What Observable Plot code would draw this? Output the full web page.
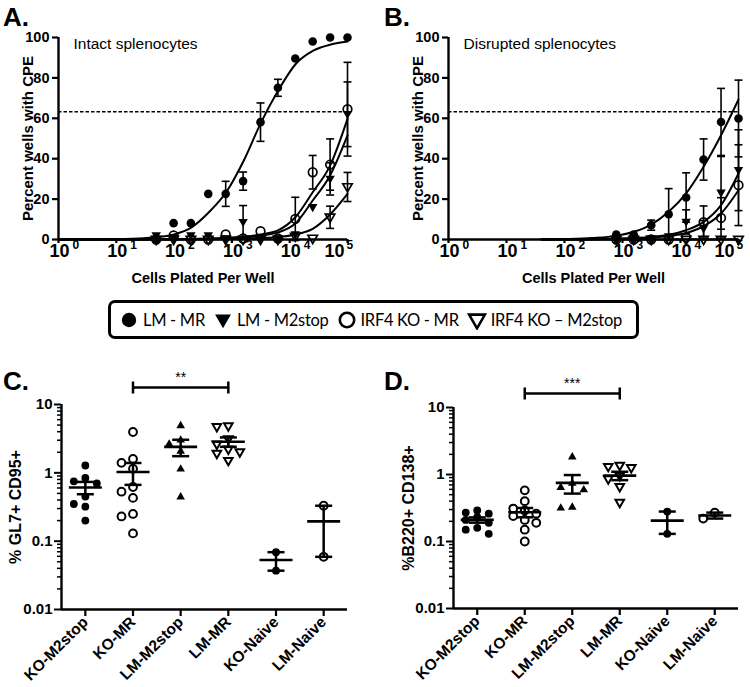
<!DOCTYPE html>
<html><head><meta charset="utf-8">
<script src="https://cdn.jsdelivr.net/npm/d3@7"></script>
<script src="https://cdn.jsdelivr.net/npm/@observablehq/plot@0.6"></script>
<style>
html,body{margin:0;padding:0;background:#fff;}
body{width:750px;height:687px;position:relative;overflow:hidden;font-family:"Liberation Sans",Arial,sans-serif;}
.panel{position:absolute;}
.letter{position:absolute;font:bold 26px "Liberation Sans",Arial,sans-serif;line-height:1;}
#legend{position:absolute;left:108px;top:300px;width:531px;height:39px;border:3px solid #000;border-radius:7px;box-sizing:border-box;display:flex;align-items:center;padding-left:8px;gap:8px;font:16.5px Lato,"Open Sans",sans-serif;letter-spacing:-0.3px;}
#legend .item{display:flex;align-items:center;gap:4px;white-space:nowrap;}
</style>
</head><body>
<div class="letter" style="left:3px;top:4px">A.</div>
<div class="letter" style="left:384px;top:4px">B.</div>
<div class="letter" style="left:3px;top:368px">C.</div>
<div class="letter" style="left:384px;top:368px">D.</div>
<div id="pA" class="panel" style="left:0;top:0"></div>
<div id="pB" class="panel" style="left:375px;top:0"></div>
<div id="legend"></div>
<div id="pC" class="panel" style="left:0;top:360px"></div>
<div id="pD" class="panel" style="left:375px;top:360px"></div>
<script>
// ---------------- DATA ----------------
const seriesNames = ["LM - MR", "LM - M2stop", "IRF4 KO - MR", "IRF4 KO \u2013 M2stop"];
const cellsA = [49, 98, 195, 390, 781, 1562, 3125, 6250, 12500, 25000, 50000, 100000];
const cellsB = [781, 1562, 3125, 6250, 12500, 25000, 50000, 100000];
const xTicksCPE = [1, 10, 100, 1000, 10000, 100000];
const yTicksCPE = [0, 20, 40, 60, 80, 100];
const thresholdCPE = [63.2];

// Panel A (intact splenocytes): mean % wells with CPE and error
const aLmMr    = [0, 8.1, 8.1, 22.6, 22.6, 28.9, 58.1, 75.1, 89.6, 98, 100, 100];
const aLmMrErr = [0, 0, 0, 0, 6.2, 4.5, 9.5, 4.2, 0, 0, 0, 0];
const aLmM2    = [2, 1, 2, 2, 0.5, 8.6, 0.5, 0.5, 2.5, 16, 30, 62];
const aLmM2Err = [0, 0, 0, 0, 0, 8.2, 0, 0, 0, 0, 8, 16];
const aKoMr    = [0, 2, 0, 0, 2.5, 0.5, 4.1, 0.5, 10.2, 33.3, 37.1, 64.5];
const aKoMrErr = [0, 0, 0, 0, 0, 0, 0, 0, 10.7, 8.3, 12.7, 23.2];
const aKoM2    = [0, 0, 0, 0, 0, 0, 0, 0, 1.5, 0.5, 11, 26];
const aKoM2Err = [0, 0, 0, 0, 0, 0, 0, 0, 0, 0, 5.5, 7.2];
// Panel A fitted curves
const aCurveXMr   = [1, 10, 30, 50, 100, 200, 400, 800, 1600, 3200, 6400, 12800, 25600, 51200, 100000];
const aCurveLmMr  = [0, 0.2, 0.6, 1.2, 2.5, 6, 13.5, 23.5, 39, 58, 74, 87, 93.5, 96.5, 98];
const aCurveX     = [1, 10, 100, 1000, 3125, 6250, 12500, 25000, 50000, 100000];
const aCurveKoMr  = [0, 0, 0.1, 1, 2.5, 4.5, 11, 23.4, 36.6, 59.7];
const aCurveLmM2  = [0, 0, 0.1, 0.7, 1.8, 3.5, 7.9, 19.3, 31.7, 51.5];
const aCurveKoM2  = [0, 0, 0, 0.3, 0.7, 1.2, 2.5, 5.3, 12.4, 22.6];

// Panel B (disrupted splenocytes)
const bLmMr    = [2.5, 2.5, 7.1, 12.5, 20.8, 39.6, 58.2, 59.9];
const bLmMrErr = [0, 0, 2.5, 12.7, 12.2, 10.2, 16.6, 19];
const bLmM2    = [0.5, 0.5, 0.5, 1.5, 8.7, 5.4, 23.1, 34.3];
const bLmM2Err = [0, 0, 0, 0, 6, 4, 18, 20];
const bKoMr    = [0, 0, 0, 0, 1, 8.6, 10.7, 26.9];
const bKoMrErr = [0, 0, 0, 0, 0, 8, 10, 20];
const bKoM2    = [0, 0, 0, 0, 0, 0, 0, 0];
const bKoM2Err = [0, 0, 0, 0, 0, 0, 0, 0];
const bCurveX    = [40, 100, 300, 781, 1562, 3125, 6250, 12500, 25000, 50000, 100000];
const bCurveLmMr = [0, 0.2, 0.7, 1.8, 3.8, 7.4, 13.7, 22.8, 36, 51.6, 69.3];
const bCurveLmM2 = [0, 0, 0.1, 0.4, 0.8, 1.3, 2.3, 4.6, 8.7, 17, 32.7];
const bCurveKoMr = [0, 0, 0.1, 0.3, 0.5, 0.9, 1.7, 3.2, 6.6, 12.9, 24.4];
const bCurveKoM2 = [0, 0, 0, 0, 0, 0, 0, 0, 0, 0, 0];

// Panels C and D
const groups = ["KO-M2stop", "KO-MR", "LM-M2stop", "LM-MR", "KO-Naive", "LM-Naive"];
const gl7 = [
  [1.28, 0.84, 0.75, 0.70, 0.45, 0.35, 0.32, 0.20],
  [3.96, 1.6, 1.4, 1.15, 0.62, 0.53, 0.43, 0.25, 0.23, 0.13],
  [4.97, 3.06, 2.67, 2.1, 1.15, 0.45],
  [4.8, 4.7, 3.1, 2.6, 2.2, 2.0, 1.9, 1.5],
  [0.069, 0.037],
  [0.33, 0.059]
];
const b220 = [
  [0.29, 0.27, 0.26, 0.23, 0.21, 0.19, 0.16, 0.15, 0.13],
  [0.58, 0.40, 0.31, 0.29, 0.26, 0.24, 0.21, 0.19, 0.15, 0.10],
  [1.85, 0.75, 0.65, 0.60, 0.33, 0.32],
  [1.35, 1.3, 1.25, 0.95, 0.85, 0.65, 0.38],
  [0.28, 0.13],
  [0.22, 0.27]
];
const yTicksLog = [0.01, 0.1, 1, 10];
const yMinorLog = [0.02,0.03,0.04,0.05,0.06,0.07,0.08,0.09,0.2,0.3,0.4,0.5,0.6,0.7,0.8,0.9,2,3,4,5,6,7,8,9];
const sigC = {from: "KO-MR", to: "LM-MR", label: "**"};
const sigD = {from: "KO-MR", to: "LM-MR", label: "***"};

// ---------------- SYMBOLS ----------------
const rad = size => Math.sqrt(size / Math.PI);
const triDown = {draw(c, s){const r=rad(s); c.moveTo(-r*1.1,-r*0.75); c.lineTo(r*1.1,-r*0.75); c.lineTo(0,r*1.15); c.closePath();}};
const triUp = {draw(c, s){const r=rad(s); c.moveTo(-r*1.1,r*0.75); c.lineTo(r*1.1,r*0.75); c.lineTo(0,-r*1.15); c.closePath();}};
const hline = {draw(c, s){const r=rad(s); c.moveTo(-r,0); c.lineTo(r,0);}};
const vline = {draw(c, s){const r=rad(s); c.moveTo(0,-r); c.lineTo(0,r);}};
const seriesSymbols = [d3.symbolCircle, triDown, d3.symbolCircle, triDown];
const seriesFilled = [true, true, false, false];
const groupSymbols = [d3.symbolCircle, d3.symbolCircle, triUp, triDown, d3.symbolCircle, d3.symbolCircle];
const groupFilled = [true, false, true, false, true, false];

const FONT = "Liberation Sans, Arial, sans-serif";
const expOf = d => String(Math.round(Math.log10(d)));

function cpePlot({cells, series, curves, title, m}) {
  const pts = series.map(s => cells.map((c, i) => ({x: c, y: s.v[i], e: s.e[i]})));
  const errs = pts.flat().filter(d => d.e > 0);
  const W = 375, H = 290;
  const base = {x: d => d, frameAnchor: "bottom", lineAnchor: "top", fontWeight: "bold"};
  const first = xTicksCPE.slice(0, -1), last = xTicksCPE.slice(-1);
  return Plot.plot({
    width: W, height: H,
    marginLeft: m.left, marginRight: m.right, marginTop: 37, marginBottom: 51,
    x: {type: "log", domain: [1, 100000]},
    y: {domain: [0, 100]},
    style: {fontFamily: FONT, overflow: "visible", background: "transparent", color: "#000"},
    marks: [
      Plot.ruleY(thresholdCPE, {strokeDasharray: "3.5,2", strokeWidth: 1.5}),
      ...curves.map(cv => Plot.line(cv.x.map((x, i) => ({x, y: cv.y[i]})), {x: "x", y: "y", curve: "monotone-x", strokeWidth: 2})),
      Plot.ruleX(errs, {x: "x", y1: d => d.y - d.e, y2: d => d.y + d.e, strokeWidth: 1.6}),
      Plot.dot(errs, {x: "x", y: d => d.y + d.e, symbol: hline, r: 4, stroke: "#000", strokeWidth: 1.6}),
      Plot.dot(errs, {x: "x", y: d => d.y - d.e, symbol: hline, r: 4, stroke: "#000", strokeWidth: 1.6}),
      ...pts.map((p, k) => Plot.dot(p, {x: "x", y: "y", symbol: seriesSymbols[k], r: 4.3,
        fill: seriesFilled[k] ? "#000" : "none", stroke: "#000", strokeWidth: seriesFilled[k] ? 0 : 1.7})),
      Plot.ruleY([0], {strokeWidth: 2.4}),
      Plot.ruleX([1], {strokeWidth: 2.4}),
      Plot.axisY({ticks: yTicksCPE, tickSize: 6, tickPadding: 3, strokeWidth: 2.2, fontSize: 14.5, fontWeight: "bold", label: null}),
      Plot.axisX({ticks: xTicksCPE, tickSize: 4, strokeWidth: 2.2, label: null, tickFormat: () => ""}),
      // tick labels "10" with superscript exponent
      Plot.text(first, {...base, text: () => "10", fontSize: 18, textAnchor: "middle", dx: 1, dy: 5}),
      Plot.text(first, {...base, text: expOf, fontSize: 12, textAnchor: "start", dx: 14, dy: 1}),
      Plot.text(last, {...base, text: () => "10", fontSize: 18, textAnchor: "end", dx: m.lastDx, dy: 5}),
      Plot.text(last, {...base, text: expOf, fontSize: 12, textAnchor: "start", dx: m.lastDx + 2, dy: 1}),
      Plot.text(["Percent wells with CPE"], {frameAnchor: "left", rotate: -90, dx: -30, textAnchor: "middle", lineAnchor: "middle", fontSize: 15, fontWeight: "bold"}),
      Plot.text(["Cells Plated Per Well"], {frameAnchor: "bottom", dy: 39, textAnchor: "middle", lineAnchor: "middle", fontSize: 14.5, fontWeight: "bold"}),
      Plot.text([title], {frameAnchor: "top-left", dx: 15, dy: 0, textAnchor: "start", lineAnchor: "top", fontSize: 15.5})
    ]
  });
}

function swarm(vals, pxPerDec, stepPx, minDist) {
  const order = d3.range(vals.length).sort((a, b) => vals[b] - vals[a]);
  const placed = [], off = new Array(vals.length);
  for (const i of order) {
    const py = Math.log10(vals[i]) * pxPerDec;
    let best = 0, bestD = -1;
    for (const s of [0, -1, 1]) {
      const d = d3.min(placed.filter(p => p.s === s), p => Math.abs(p.py - py)) ?? Infinity;
      if (d >= minDist) { best = s; bestD = d; break; }
      if (d > bestD) { best = s; bestD = d; }
    }
    off[i] = best * stepPx; placed.push({s: best, py});
  }
  return off;
}

function groupPlot({vals, yTitle, sig, m}) {
  const W = 375, H = 327;
  const unit = (W - m.left - m.right) / groups.length;
  const pxPerDec = (H - m.top - m.bottom) / 3;
  const pts = [], stats = [];
  vals.forEach((arr, g) => {
    const offs = swarm(arr, pxPerDec, 11.5, 9);
    arr.forEach((v, i) => pts.push({g, v, x: g + offs[i] / unit}));
    const mean = d3.mean(arr), sem = d3.deviation(arr) / Math.sqrt(arr.length);
    stats.push({g, mean, lo: mean - sem, hi: mean + sem});
  });
  return Plot.plot({
    width: W, height: H,
    marginLeft: m.left, marginRight: m.right, marginTop: m.top, marginBottom: m.bottom,
    x: {domain: [-0.5, groups.length - 0.5]},
    y: {type: "log", domain: [0.01, 10]},
    style: {fontFamily: FONT, overflow: "visible", background: "transparent", color: "#000"},
    marks: [
      Plot.ruleX(stats, {x: "g", y1: "lo", y2: "hi", strokeWidth: 2.5}),
      Plot.dot(stats, {x: "g", y: "lo", symbol: hline, r: 8.5, stroke: "#000", strokeWidth: 2.5}),
      Plot.dot(stats, {x: "g", y: "hi", symbol: hline, r: 8.5, stroke: "#000", strokeWidth: 2.5}),
      Plot.dot(stats, {x: "g", y: "mean", symbol: hline, r: 16.5, stroke: "#000", strokeWidth: 2.6}),
      ...groups.map((name, g) => Plot.dot(pts.filter(d => d.g === g), {x: "x", y: "v", symbol: groupSymbols[g], r: 3.9,
        fill: groupFilled[g] ? "#000" : "none", stroke: "#000", strokeWidth: groupFilled[g] ? 0 : 2})),
      Plot.ruleY([0.01], {strokeWidth: 2.4}),
      Plot.ruleX([-0.5], {strokeWidth: 2.4}),
      Plot.axisY({ticks: yTicksLog, tickSize: 7, tickPadding: 2, strokeWidth: 2, fontSize: 15, fontWeight: "bold", label: null, tickFormat: d => String(d)}),
      Plot.axisY({ticks: yMinorLog, tickSize: 4, strokeWidth: 1.5, label: null, tickFormat: () => ""}),
      Plot.axisX({ticks: d3.range(groups.length), tickSize: 7, tickPadding: 3, strokeWidth: 2.2, tickRotate: -45, fontSize: 15.5, fontWeight: "bold", label: null, tickFormat: i => groups[i]}),
      Plot.text([yTitle], {frameAnchor: "left", rotate: -90, dx: m.ytitle, textAnchor: "middle", lineAnchor: "middle", fontSize: 16, fontWeight: "bold"}),
      Plot.ruleY([sig], {x1: d => groups.indexOf(d.from), x2: d => groups.indexOf(d.to), y: () => 10, dy: m.sigDy, strokeWidth: 2.5}),
      Plot.dot([sig.from, sig.to], {x: d => groups.indexOf(d), y: () => 10, dy: m.sigDy, symbol: vline, r: 6, stroke: "#000", strokeWidth: 2.5}),
      Plot.text([sig], {x: d => (groups.indexOf(d.from) + groups.indexOf(d.to)) / 2, y: () => 10, text: "label", dy: m.sigDy - 6, lineAnchor: "bottom", fontSize: 14})
    ]
  });
}

const curveSet = (xs, ys) => ys.map(y => ({x: xs, y}));

document.getElementById("pA").append(cpePlot({
  cells: cellsA,
  series: [{v: aLmMr, e: aLmMrErr}, {v: aLmM2, e: aLmM2Err}, {v: aKoMr, e: aKoMrErr}, {v: aKoM2, e: aKoM2Err}],
  curves: [...curveSet(aCurveXMr, [aCurveLmMr]), ...curveSet(aCurveX, [aCurveKoMr, aCurveLmM2, aCurveKoM2])],
  title: "Intact splenocytes", m: {left: 58, right: 28, lastDx: -3}
}));
document.getElementById("pB").append(cpePlot({
  cells: cellsB,
  series: [{v: bLmMr, e: bLmMrErr}, {v: bLmM2, e: bLmM2Err}, {v: bKoMr, e: bKoMrErr}, {v: bKoM2, e: bKoM2Err}],
  curves: curveSet(bCurveX, [bCurveLmMr, bCurveLmM2, bCurveKoMr, bCurveKoM2]),
  title: "Disrupted splenocytes", m: {left: 73, right: 12, lastDx: -4}
}));
document.getElementById("pC").append(groupPlot({vals: gl7, yTitle: "% GL7+ CD95+", sig: sigC,
  m: {left: 61, right: 28, top: 44, bottom: 78, ytitle: -46, sigDy: -17}}));
document.getElementById("pD").append(groupPlot({vals: b220, yTitle: "%B220+ CD138+", sig: sigD,
  m: {left: 78, right: 12, top: 47, bottom: 79, ytitle: -45, sigDy: -14}}));

// legend
const leg = d3.select("#legend");
seriesNames.forEach((name, k) => {
  const item = leg.append("div").attr("class", "item");
  const svg = item.append("svg").attr("width", 20).attr("height", 20);
  const p = d3.path(); seriesSymbols[k].draw(p, Math.PI * 7.2 * 7.2);
  svg.append("path").attr("transform", "translate(10,10)").attr("d", p.toString())
    .attr("fill", seriesFilled[k] ? "#000" : "none").attr("stroke", "#000").attr("stroke-width", seriesFilled[k] ? 0 : 2.6);
  item.append("span").text(name);
});
</script>
</body></html>
